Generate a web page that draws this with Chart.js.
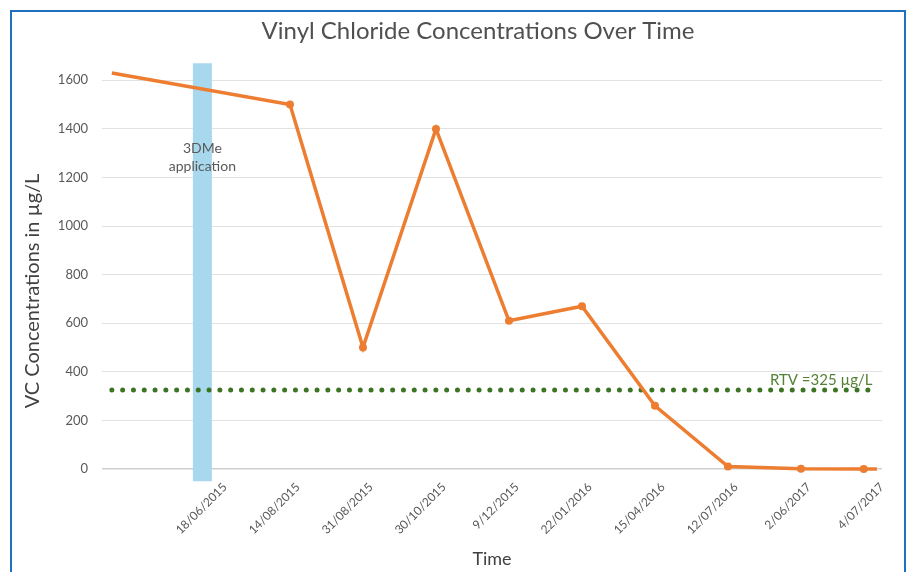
<!DOCTYPE html>
<html>
<head>
<meta charset="utf-8">
<script src="https://cdn.jsdelivr.net/npm/chart.js@4/dist/chart.umd.min.js"></script>
<style>
  html, body { margin: 0; padding: 0; background: #ffffff; overflow: hidden; }
  #wrap { position: relative; width: 907px; height: 572px; }
  #frame { position: absolute; left: 10px; top: 10px; width: 892px; height: 600px;
           border: 2px solid #1f70bd; pointer-events: none; }
  canvas { position: absolute; left: 0; top: 0; }
</style>
</head>
<body>
<div id="wrap">
  <canvas id="c" width="907" height="572"></canvas>
  <div id="frame"></div>
</div>
<script>
// ---- data ----
const chartTitle = 'Vinyl Chloride Concentrations Over Time';
const yTitle = 'VC Concentrations in µg/L';
const xTitle = 'Time';
const xTickLabels = ['18/06/2015', '14/08/2015', '31/08/2015', '30/10/2015', '9/12/2015',
                     '22/01/2016', '15/04/2016', '12/07/2016', '2/06/2017', '4/07/2017'];
const xTickPositions = [0, 1, 2, 3, 4, 5, 6, 7, 8, 9];
const vcX      = [-1.44, 1, 2, 3, 4, 5, 6, 7, 8, 8.86, 9.04];
const vcValues = [1630, 1500, 500, 1400, 610, 670, 260, 10, 1, 0, 0];
const vcMarked = [false, true, true, true, true, true, true, true, true, true, false];
const rtvX     = [-1.44, 8.92];
const rtvValue = 325;
const rtvLabel = 'RTV =325 µg/L';
const appX     = -0.2;
const appRange = [-50, 1670];
const appLabel = ['3DMe', 'application'];

const vcData  = vcX.map((x, i) => ({ x: x, y: vcValues[i] }));
const rtvData = rtvX.map(x => ({ x: x, y: rtvValue }));
const appData = appRange.map(y => ({ x: appX, y: y }));

const FONT = 'Lato, "Open Sans", sans-serif';

const annotations = {
  id: 'annotations',
  afterDraw(chart) {
    const { ctx } = chart;
    ctx.save();
    // chart title
    ctx.fillStyle = '#505050';
    ctx.font = '24px ' + FONT;
    ctx.textAlign = 'center';
    ctx.textBaseline = 'middle';
    ctx.fillText(chartTitle, 478, 31);
    // y axis title
    ctx.save();
    ctx.translate(33, 291);
    ctx.rotate(-Math.PI / 2);
    ctx.fillStyle = '#404040';
    ctx.font = '20px ' + FONT;
    ctx.fillText(yTitle, 0, 0);
    ctx.restore();
    ctx.restore();
  },
  afterDatasetsDraw(chart) {
    const { ctx, scales: { x, y } } = chart;
    ctx.save();
    ctx.fillStyle = '#595959';
    ctx.font = '14px ' + FONT;
    ctx.textAlign = 'center';
    ctx.textBaseline = 'middle';
    ctx.fillText(appLabel[0], x.getPixelForValue(appX), y.getPixelForValue(1320));
    ctx.fillText(appLabel[1], x.getPixelForValue(appX), y.getPixelForValue(1245));
    ctx.fillStyle = '#548235';
    ctx.font = '15px ' + FONT;
    ctx.textAlign = 'right';
    ctx.textBaseline = 'alphabetic';
    ctx.fillText(rtvLabel, x.getPixelForValue(8.98), y.getPixelForValue(rtvValue) - 5);
    ctx.restore();
  }
};

new Chart(document.getElementById('c'), {
  type: 'line',
  data: {
    datasets: [
      {
        label: 'VC',
        data: vcData,
        borderColor: '#ed7d31',
        backgroundColor: '#ed7d31',
        borderWidth: 3.5,
        pointRadius: vcMarked.map(m => m ? 4 : 0),
        pointBorderWidth: 0,
        tension: 0,
        clip: false,
        order: 1
      },
      {
        label: 'RTV',
        data: rtvData,
        borderColor: '#3b7524',
        borderWidth: 5,
        borderDash: [0, 10.8],
        borderCapStyle: 'round',
        pointRadius: 0,
        clip: false,
        order: 2
      },
      {
        label: '3DMe application',
        data: appData,
        borderColor: '#a8d8ee',
        borderWidth: 19,
        borderCapStyle: 'butt',
        pointRadius: 0,
        clip: false,
        order: 3
      }
    ]
  },
  options: {
    responsive: false,
    animation: false,
    layout: { padding: { left: 0, right: 25, top: 56, bottom: 0 } },
    plugins: {
      legend: { display: false },
      tooltip: { enabled: false },
      title: { display: false }
    },
    scales: {
      x: {
        type: 'linear',
        min: -1.575,
        max: 9.11,
        grid: { display: false },
        border: { display: false },
        afterBuildTicks: (s) => { s.ticks = xTickPositions.map(v => ({ value: v })); },
        afterFit: (s) => { s.height = 103; },
        ticks: {
          autoSkip: false,
          minRotation: 45,
          maxRotation: 45,
          padding: 3,
          labelOffset: 8,
          color: '#595959',
          font: { family: FONT, size: 12 },
          callback: (v) => {
            const i = xTickPositions.indexOf(v);
            return i >= 0 ? xTickLabels[i] : '';
          }
        },
        title: {
          display: true,
          text: xTitle,
          color: '#404040',
          font: { family: FONT, size: 18 },
          padding: { top: 0, bottom: 2 }
        }
      },
      y: {
        min: 0,
        max: 1700,
        afterFit: (s) => { s.width = 102; },
        border: { display: false },
        grid: {
          drawTicks: false,
          color: (c) => c.tick && c.tick.value === 0 ? '#cfcfcf' : '#e2e2e2',
          lineWidth: (c) => c.tick && c.tick.value === 0 ? 1.5 : 1
        },
        ticks: {
          stepSize: 200,
          includeBounds: false,
          padding: 14,
          color: '#595959',
          font: { family: FONT, size: 13 },
          callback: (v) => String(v)
        },
        title: { display: false }
      }
    }
  },
  plugins: [annotations]
});
</script>
</body>
</html>
